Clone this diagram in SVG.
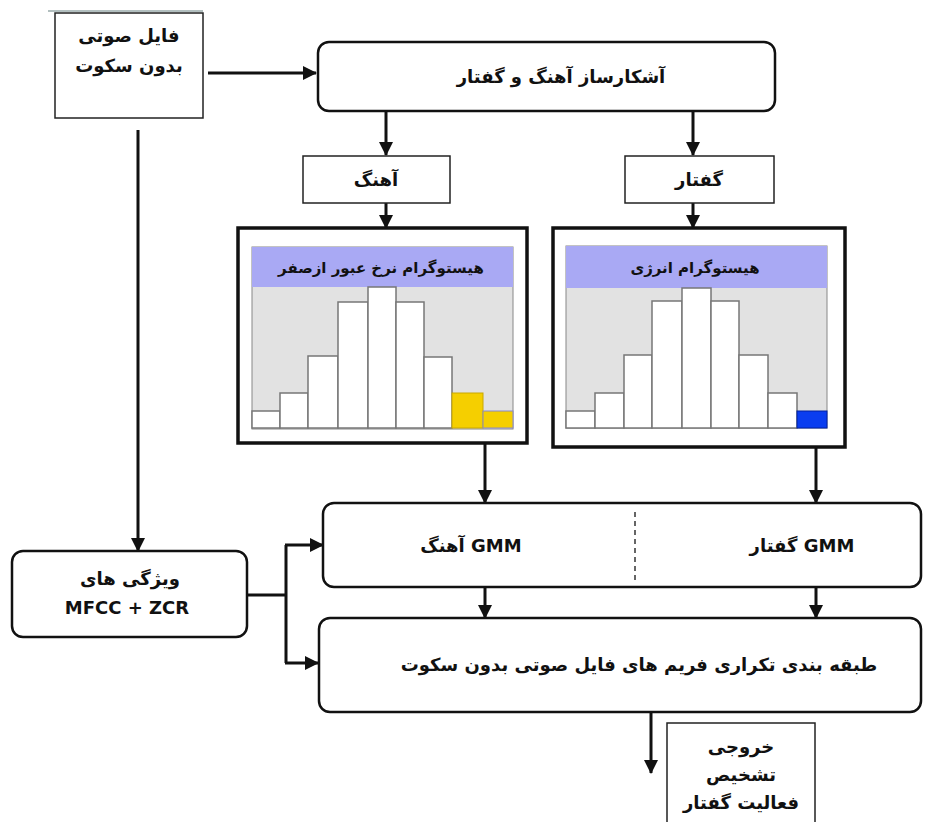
<svg xmlns="http://www.w3.org/2000/svg" width="927" height="822" viewBox="0 0 927 822">
  <defs>
    <marker id="arrow" markerUnits="userSpaceOnUse" markerWidth="14" markerHeight="14" viewBox="0 0 14 14" refX="13" refY="7" orient="auto">
      <path d="M0,0 L14,7 L0,14 Z" fill="#111"/>
    </marker>
    <style>
      .box { fill: #fff; stroke: #111; stroke-width: 2.5; }
      .thin { fill: #fff; stroke: #222; stroke-width: 1.5; }
      .frame { fill: #fff; stroke: #111; stroke-width: 3.5; }
      .edge { fill: none; stroke: #111; stroke-width: 3; }
      .lbl { font-family: "DejaVu Sans", "Noto Sans", sans-serif; font-weight: bold; font-size: 18px; fill: #111; text-anchor: middle; }
      .title { font-size: 15px; }
      .bar { fill: #fff; stroke: #777; stroke-width: 1.5; }
      .plot { fill: #e2e2e2; stroke: #888; stroke-width: 1; }
      .band { fill: #a9a9f4; }
    </style>
  </defs>

  <!-- connectors -->
  <g id="connectors">
    <path class="edge" d="M208,73 H316" marker-end="url(#arrow)"/>
    <path class="edge" d="M386,111 V155" marker-end="url(#arrow)"/>
    <path class="edge" d="M693,111 V155" marker-end="url(#arrow)"/>
    <path class="edge" d="M386,203 V228" marker-end="url(#arrow)"/>
    <path class="edge" d="M693,203 V228" marker-end="url(#arrow)"/>
    <path class="edge" d="M138,130 V551" marker-end="url(#arrow)"/>
    <path class="edge" d="M485,420 V503" marker-end="url(#arrow)"/>
    <path class="edge" d="M816,420 V503" marker-end="url(#arrow)"/>
    <path class="edge" d="M247,595 H286 M286,545 V663" />
    <path class="edge" d="M285,545 H323" marker-end="url(#arrow)"/>
    <path class="edge" d="M285,663 H318" marker-end="url(#arrow)"/>
    <path class="edge" d="M485,587 V618" marker-end="url(#arrow)"/>
    <path class="edge" d="M816,587 V618" marker-end="url(#arrow)"/>
    <path class="edge" d="M651,712 V773" marker-end="url(#arrow)"/>
  </g>

  <!-- source file -->
  <g id="node-file">
    <line x1="48" y1="11" x2="203" y2="11" stroke="#9aa" stroke-width="1.5"/>
    <rect class="thin" x="55" y="13" width="148" height="105"/>
    <text class="lbl" x="129" y="42" direction="rtl">فایل صوتی</text>
    <text class="lbl" x="129" y="72" direction="rtl">بدون سکوت</text>
  </g>

  <!-- detector -->
  <g id="node-detector">
    <rect class="box" x="318" y="42" width="457" height="69" rx="11"/>
    <text class="lbl" x="561" y="83" direction="rtl">آشکارساز آهنگ و گفتار</text>
  </g>

  <g id="node-music">
    <rect class="thin" x="303" y="156" width="147" height="47"/>
    <text class="lbl" x="376" y="186" direction="rtl">آهنگ</text>
  </g>

  <g id="node-speech">
    <rect class="thin" x="625" y="156" width="149" height="47"/>
    <text class="lbl" x="699" y="186" direction="rtl">گفتار</text>
  </g>

  <!-- ZCR histogram -->
  <g id="node-zcr-hist">
    <rect class="frame" x="238" y="228" width="289" height="215"/>
    <rect class="plot" x="252" y="247" width="261" height="182"/>
    <rect class="band" x="252" y="247" width="261" height="40"/>
    <text class="lbl title" x="381" y="273" direction="rtl">هیستوگرام نرخ عبور ازصفر</text>
    <rect class="bar" x="252" y="411" width="28" height="17"/>
    <rect class="bar" x="280" y="393" width="28" height="35"/>
    <rect class="bar" x="308" y="356" width="30" height="72"/>
    <rect class="bar" x="338" y="302" width="30" height="126"/>
    <rect class="bar" x="368" y="287" width="28" height="141"/>
    <rect class="bar" x="396" y="302" width="28" height="126"/>
    <rect class="bar" x="424" y="357" width="28" height="71"/>
    <rect x="452" y="393" width="31" height="35" fill="#f5cf00" stroke="#c9a800" stroke-width="1"/>
    <rect x="483" y="411" width="30" height="17" fill="#f5cf00" stroke="#8888cc" stroke-width="1"/>
  </g>

  <!-- energy histogram -->
  <g id="node-energy-hist">
    <rect class="frame" x="553" y="228" width="292" height="219"/>
    <rect class="plot" x="566" y="246" width="261" height="182"/>
    <rect class="band" x="566" y="246" width="261" height="42"/>
    <text class="lbl title" x="695" y="273" direction="rtl">هیستوگرام انرژی</text>
    <rect class="bar" x="566" y="411" width="29" height="17"/>
    <rect class="bar" x="595" y="393" width="29" height="35"/>
    <rect class="bar" x="624" y="355" width="28" height="73"/>
    <rect class="bar" x="652" y="301" width="30" height="127"/>
    <rect class="bar" x="682" y="288" width="29" height="140"/>
    <rect class="bar" x="711" y="301" width="28" height="127"/>
    <rect class="bar" x="739" y="355" width="29" height="73"/>
    <rect class="bar" x="768" y="393" width="29" height="35"/>
    <rect x="797" y="411" width="30" height="17" fill="#0a3df0" stroke="#0020a0" stroke-width="1"/>
  </g>

  <!-- GMM models -->
  <g id="node-gmm">
    <rect class="box" x="323" y="503" width="598" height="84" rx="11"/>
    <line x1="635" y1="512" x2="635" y2="580" stroke="#333" stroke-width="1.5" stroke-dasharray="5,4"/>
    <text class="lbl" x="471" y="552" direction="rtl">GMM آهنگ</text>
    <text class="lbl" x="802" y="552" direction="rtl">GMM گفتار</text>
  </g>

  <!-- features -->
  <g id="node-features">
    <rect class="box" x="12" y="551" width="235" height="86" rx="11"/>
    <text class="lbl" x="130" y="585" direction="rtl">ویژگی های</text>
    <text class="lbl" x="127" y="614">MFCC + ZCR</text>
  </g>

  <!-- classification -->
  <g id="node-classify">
    <rect class="box" x="319" y="618" width="602" height="94" rx="11"/>
    <text class="lbl" x="639" y="671" direction="rtl">طبقه بندی تکراری فریم های فایل صوتی بدون سکوت</text>
  </g>

  <!-- output -->
  <g id="node-output">
    <rect class="thin" x="667" y="723" width="148" height="110"/>
    <text class="lbl" x="741" y="753" direction="rtl">خروجی</text>
    <text class="lbl" x="741" y="781" direction="rtl">تشخیص</text>
    <text class="lbl" x="741" y="809" direction="rtl">فعالیت گفتار</text>
  </g>
</svg>
